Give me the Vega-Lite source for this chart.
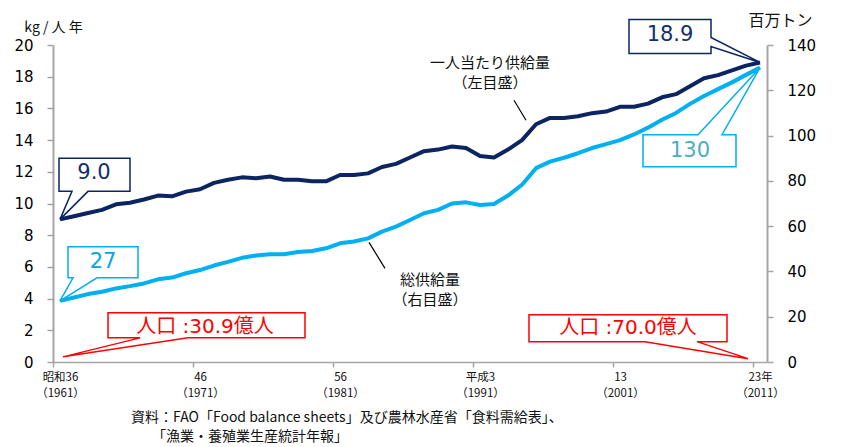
{
  "$schema": "https://vega.github.io/schema/vega-lite/v6.json",
  "width": 714,
  "height": 317,
  "autosize": {"type": "none"},
  "padding": {"left": 53, "top": 45, "right": 76, "bottom": 85},
  "background": "white",
  "config": {"view": {"stroke": null}},
  "datasets": {
    "fish": [
      {"year": 1961, "per_capita": 9.0, "total": 27},
      {"year": 1962, "per_capita": 9.2, "total": 28.5},
      {"year": 1963, "per_capita": 9.4, "total": 30},
      {"year": 1964, "per_capita": 9.6, "total": 31},
      {"year": 1965, "per_capita": 9.95, "total": 32.5},
      {"year": 1966, "per_capita": 10.05, "total": 33.5},
      {"year": 1967, "per_capita": 10.25, "total": 34.7},
      {"year": 1968, "per_capita": 10.5, "total": 36.5},
      {"year": 1969, "per_capita": 10.45, "total": 37.3},
      {"year": 1970, "per_capita": 10.75, "total": 39.2},
      {"year": 1971, "per_capita": 10.9, "total": 40.6},
      {"year": 1972, "per_capita": 11.3, "total": 42.6},
      {"year": 1973, "per_capita": 11.5, "total": 44.2},
      {"year": 1974, "per_capita": 11.65, "total": 46},
      {"year": 1975, "per_capita": 11.6, "total": 47},
      {"year": 1976, "per_capita": 11.7, "total": 47.6},
      {"year": 1977, "per_capita": 11.5, "total": 47.6},
      {"year": 1978, "per_capita": 11.5, "total": 48.6},
      {"year": 1979, "per_capita": 11.4, "total": 49},
      {"year": 1980, "per_capita": 11.4, "total": 50.2},
      {"year": 1981, "per_capita": 11.8, "total": 52.4},
      {"year": 1982, "per_capita": 11.8, "total": 53.2},
      {"year": 1983, "per_capita": 11.9, "total": 54.6},
      {"year": 1984, "per_capita": 12.3, "total": 57.6},
      {"year": 1985, "per_capita": 12.5, "total": 59.8},
      {"year": 1986, "per_capita": 12.9, "total": 62.7},
      {"year": 1987, "per_capita": 13.3, "total": 65.7},
      {"year": 1988, "per_capita": 13.4, "total": 67.2},
      {"year": 1989, "per_capita": 13.6, "total": 70},
      {"year": 1990, "per_capita": 13.5, "total": 70.5},
      {"year": 1991, "per_capita": 13.0, "total": 69.3},
      {"year": 1992, "per_capita": 12.9, "total": 69.8},
      {"year": 1993, "per_capita": 13.4, "total": 73.5},
      {"year": 1994, "per_capita": 14.0, "total": 78.3},
      {"year": 1995, "per_capita": 15.0, "total": 85.6},
      {"year": 1996, "per_capita": 15.4, "total": 88.5},
      {"year": 1997, "per_capita": 15.4, "total": 90.2},
      {"year": 1998, "per_capita": 15.5, "total": 92.2},
      {"year": 1999, "per_capita": 15.7, "total": 94.5},
      {"year": 2000, "per_capita": 15.8, "total": 96.2},
      {"year": 2001, "per_capita": 16.1, "total": 98},
      {"year": 2002, "per_capita": 16.1, "total": 100.5},
      {"year": 2003, "per_capita": 16.3, "total": 103.5},
      {"year": 2004, "per_capita": 16.7, "total": 107},
      {"year": 2005, "per_capita": 16.9, "total": 110},
      {"year": 2006, "per_capita": 17.4, "total": 114},
      {"year": 2007, "per_capita": 17.9, "total": 117.5},
      {"year": 2008, "per_capita": 18.1, "total": 120.5},
      {"year": 2009, "per_capita": 18.4, "total": 123.5},
      {"year": 2010, "per_capita": 18.7, "total": 126.8},
      {"year": 2011, "per_capita": 18.9, "total": 130}
    ],
    "population": [
      {"year": 1961, "population": 30.9, "label": "人口 :30.9億人"},
      {"year": 2011, "population": 70.0, "label": "人口 :70.0億人"}
    ]
  },
  "title": {
    "text": ["資料：FAO「Food balance sheets」及び農林水産省「食料需給表」、", "\u200b　　「漁業・養殖業生産統計年報」"],
    "orient": "bottom",
    "anchor": "start",
    "frame": "group",
    "dx": 78,
    "offset": 12,
    "font": "Noto Sans CJK JP",
    "fontSize": 14,
    "fontWeight": "normal",
    "color": "#111111",
    "lineHeight": 19
  },
  "encoding": {
    "x": {
      "field": "year",
      "type": "quantitative",
      "scale": {"domain": [1960.5, 2011.5], "nice": false, "zero": false},
      "axis": {
        "values": [1961, 1971, 1981, 1991, 2001, 2011],
        "tickOffset": -7,
        "labelOffset": 7,
        "labelFlush": false,
        "labelOverlap": false,
        "labelExpr": "[datum.value == 1961 ? '昭和36' : datum.value == 1971 ? '46' : datum.value == 1981 ? '56' : datum.value == 1991 ? '平成3' : datum.value == 2001 ? '13' : '23年', '（' + datum.value + '）']",
        "labelFont": "Noto Sans CJK JP",
        "labelFontSize": 11.5,
        "labelColor": "#111111",
        "labelLineHeight": 16,
        "labelPadding": 4,
        "tickSize": 5,
        "tickColor": "#a6a6a6",
        "tickWidth": 1.5,
        "domainColor": "#a6a6a6",
        "domainWidth": 1.5,
        "grid": false,
        "title": null
      }
    }
  },
  "layer": [
    {
      "data": {"name": "fish"},
      "encoding": {
        "y": {
          "field": "per_capita",
          "type": "quantitative",
          "scale": {"domain": [0, 20], "nice": false},
          "axis": {
            "orient": "left",
            "values": [0, 2, 4, 6, 8, 10, 12, 14, 16, 18, 20],
            "title": "kg / 人 年",
            "titleAngle": 0,
            "titleAlign": "center",
            "titleBaseline": "middle",
            "titleX": 0,
            "titleY": -18,
            "titleFont": "Noto Sans CJK JP",
            "titleFontSize": 14,
            "titleFontWeight": "normal",
            "titleColor": "#111111",
            "labelFont": "DejaVu Sans",
            "labelFontSize": 15,
            "labelColor": "#000000",
            "labelPadding": 14,
            "tickSize": 6,
            "tickColor": "#a6a6a6",
            "tickWidth": 1.5,
            "domainColor": "#a6a6a6",
            "domainWidth": 2,
            "grid": false
          }
        }
      },
      "layer": [
        {"mark": {"type": "line", "color": "#0c2461", "strokeWidth": 4, "strokeJoin": "round"}},
        {
          "transform": [{"filter": "datum.year == 1961"}],
          "mark": {"type": "point", "shape": "M0,0L12,-28H-1V-61H70V-28H28Z", "size": 4, "filled": true, "fill": "white", "stroke": "#0c2461", "strokeWidth": 1.5, "opacity": 1}
        },
        {
          "transform": [{"filter": "datum.year == 1961"}],
          "mark": {"type": "text", "dx": 34, "dy": -46, "font": "DejaVu Sans", "fontSize": 21, "color": "#14306b", "align": "center", "baseline": "middle"},
          "encoding": {"text": {"field": "per_capita", "type": "quantitative", "format": ".1f"}}
        },
        {
          "transform": [{"filter": "datum.year == 2011"}],
          "mark": {"type": "point", "shape": "M0,0L-49,-16V-9H-131V-43H-49V-25Z", "size": 4, "filled": true, "fill": "white", "stroke": "#0c2461", "strokeWidth": 1.5, "opacity": 1}
        },
        {
          "transform": [{"filter": "datum.year == 2011"}],
          "mark": {"type": "text", "dx": -90, "dy": -27, "font": "DejaVu Sans", "fontSize": 21, "color": "#14306b", "align": "center", "baseline": "middle"},
          "encoding": {"text": {"field": "per_capita", "type": "quantitative", "format": ".1f"}}
        },
        {
          "transform": [{"filter": "datum.year == 1995"}],
          "mark": {"type": "point", "shape": "M-10,-4L-22,-24", "size": 4, "filled": false, "stroke": "#000000", "strokeWidth": 1.2, "opacity": 1}
        },
        {
          "transform": [{"filter": "datum.year == 1995"}],
          "mark": {"type": "text", "text": ["一人当たり供給量", "（左目盛）"], "lineHeight": 20, "dx": -46, "dy": -61, "font": "Noto Sans CJK JP", "fontSize": 15, "color": "#111111", "align": "center", "baseline": "middle"}
        }
      ]
    },
    {
      "data": {"name": "fish"},
      "encoding": {
        "y": {
          "field": "total",
          "type": "quantitative",
          "scale": {"domain": [0, 140], "nice": false},
          "axis": {
            "orient": "right",
            "values": [0, 20, 40, 60, 80, 100, 120, 140],
            "title": "百万トン",
            "titleAngle": 0,
            "titleAlign": "center",
            "titleBaseline": "middle",
            "titleX": 13,
            "titleY": -25,
            "titleFont": "Noto Sans CJK JP",
            "titleFontSize": 16,
            "titleFontWeight": "normal",
            "titleColor": "#111111",
            "labelFont": "DejaVu Sans",
            "labelFontSize": 15,
            "labelColor": "#000000",
            "labelPadding": 14,
            "tickSize": 6,
            "tickColor": "#a6a6a6",
            "tickWidth": 1.5,
            "domainColor": "#a6a6a6",
            "domainWidth": 2,
            "grid": false
          }
        }
      },
      "layer": [
        {"mark": {"type": "line", "color": "#00b0f0", "strokeWidth": 4, "strokeJoin": "round"}},
        {
          "transform": [{"filter": "datum.year == 1961"}],
          "mark": {"type": "point", "shape": "M0,0L13,-23H8V-54H78V-23H37Z", "size": 4, "filled": true, "fill": "white", "stroke": "#00b0f0", "strokeWidth": 1.5, "opacity": 1}
        },
        {
          "transform": [{"filter": "datum.year == 1961"}],
          "mark": {"type": "text", "dx": 43, "dy": -39, "font": "DejaVu Sans", "fontSize": 21, "color": "#00a8e8", "align": "center", "baseline": "middle"},
          "encoding": {"text": {"field": "total", "type": "quantitative", "format": ".0f"}}
        },
        {
          "transform": [{"filter": "datum.year == 2011"}],
          "mark": {"type": "point", "shape": "M0,0L-38,67H-24V99H-117V67H-62Z", "size": 4, "filled": true, "fill": "white", "stroke": "#00b0f0", "strokeWidth": 1.5, "opacity": 1}
        },
        {
          "transform": [{"filter": "datum.year == 2011"}],
          "mark": {"type": "text", "dx": -70, "dy": 83, "font": "DejaVu Sans", "fontSize": 21, "color": "#4bacc6", "align": "center", "baseline": "middle"},
          "encoding": {"text": {"field": "total", "type": "quantitative", "format": ".0f"}}
        },
        {
          "transform": [{"filter": "datum.year == 1983"}],
          "mark": {"type": "point", "shape": "M1,4L17,30", "size": 4, "filled": false, "stroke": "#000000", "strokeWidth": 1.2, "opacity": 1}
        },
        {
          "transform": [{"filter": "datum.year == 1983"}],
          "mark": {"type": "text", "text": ["総供給量", "（右目盛）"], "lineHeight": 20, "dx": 62, "dy": 42, "font": "Noto Sans CJK JP", "fontSize": 15, "color": "#111111", "align": "center", "baseline": "middle"}
        },
        {
          "transform": [{"filter": "datum.year == 1961"}],
          "mark": {"type": "point", "shape": "M3,56L80,37H48V12H245V37H128Z", "size": 4, "filled": true, "fill": "white", "stroke": "#ff0000", "strokeWidth": 1.5, "opacity": 1}
        },
        {
          "transform": [{"filter": "datum.year == 2011"}],
          "mark": {"type": "point", "shape": "M-12,291L-63,274H-33V247H-231V274H-115Z", "size": 4, "filled": true, "fill": "white", "stroke": "#ff0000", "strokeWidth": 1.5, "opacity": 1}
        },
        {
          "transform": [
            {"filter": "datum.year == 1961"},
            {"lookup": "year", "from": {"data": {"name": "population"}, "key": "year", "fields": ["label"]}}
          ],
          "mark": {"type": "text", "dx": 145, "dy": 26, "font": "DejaVu Sans, Noto Sans CJK JP", "fontSize": 20, "color": "#ff0000", "align": "center", "baseline": "middle"},
          "encoding": {"text": {"field": "label", "type": "nominal"}}
        },
        {
          "transform": [
            {"filter": "datum.year == 2011"},
            {"lookup": "year", "from": {"data": {"name": "population"}, "key": "year", "fields": ["label"]}}
          ],
          "mark": {"type": "text", "dx": -132, "dy": 260, "font": "DejaVu Sans, Noto Sans CJK JP", "fontSize": 20, "color": "#ff0000", "align": "center", "baseline": "middle"},
          "encoding": {"text": {"field": "label", "type": "nominal"}}
        }
      ]
    }
  ],
  "resolve": {"scale": {"y": "independent"}}
}
